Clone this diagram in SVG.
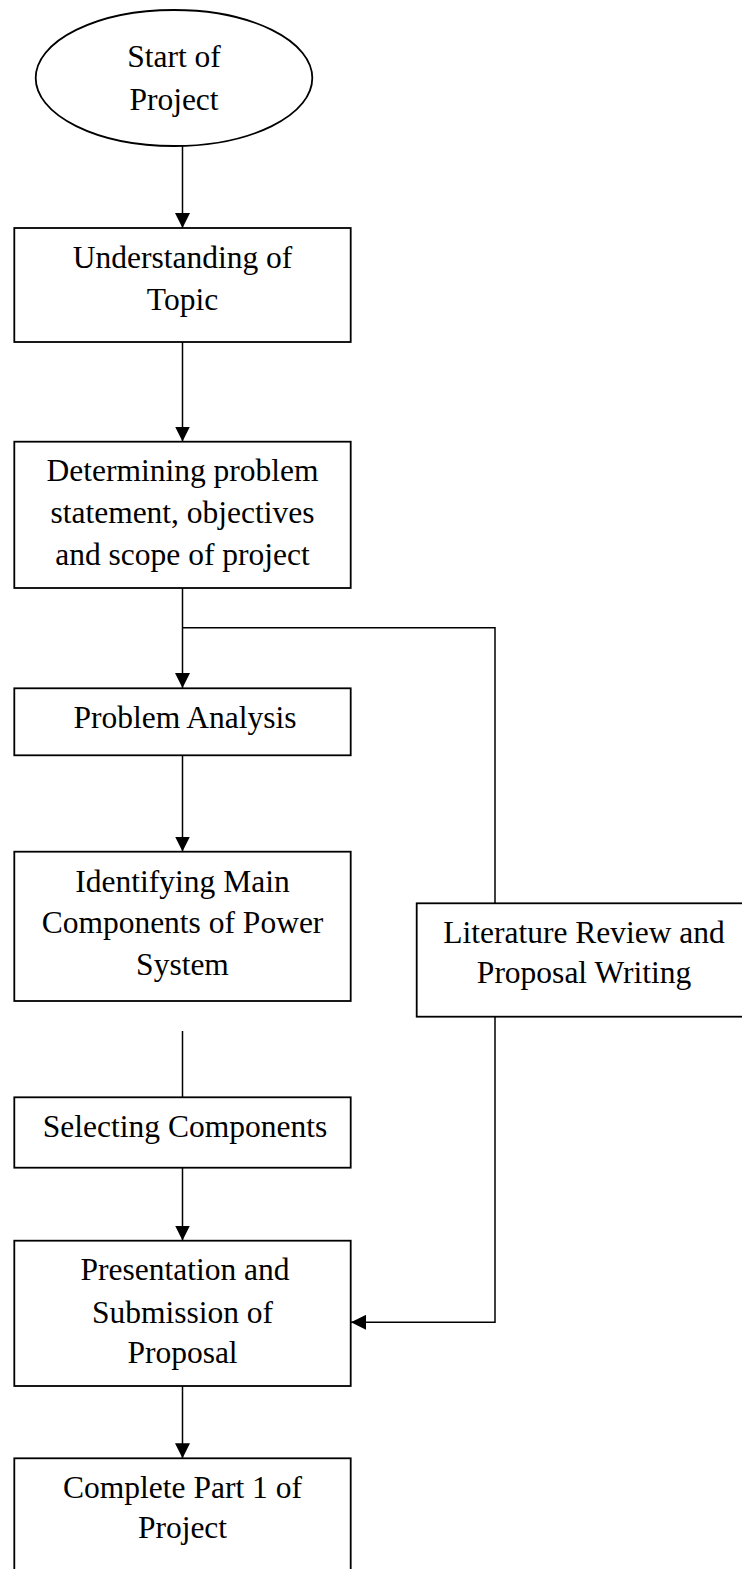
<svg xmlns="http://www.w3.org/2000/svg" width="742" height="1569" viewBox="0 0 742 1569">
<style>
.n{fill:#fff;stroke:#000;stroke-width:1.8}
.t{font-family:"Liberation Serif","Times New Roman",serif;font-size:31.5px;fill:#000;text-anchor:middle}
.c{fill:none;stroke:#000;stroke-width:1.5}
</style>
<defs>
<marker id="ah" viewBox="0 0 15 15" markerWidth="15" markerHeight="15" markerUnits="userSpaceOnUse" refX="15" refY="7.5" orient="auto">
<path d="M0,0 L15,7.5 L0,15 z" fill="#000"/>
</marker>
</defs>
<rect width="742" height="1569" fill="#fff"/>
<g id="connectors">
<path class="c" d="M182.5,146 V228" marker-end="url(#ah)"/>
<path class="c" d="M182.5,342 V441.5" marker-end="url(#ah)"/>
<path class="c" d="M182.5,588 V688" marker-end="url(#ah)"/>
<path class="c" d="M182.5,627.7 H495 V903.3"/>
<path class="c" d="M182.5,755.3 V851.5" marker-end="url(#ah)"/>
<path class="c" d="M182.5,1031 V1097.3"/>
<path class="c" d="M182.5,1167.7 V1240.5" marker-end="url(#ah)"/>
<path class="c" d="M495,1016.7 V1322.3 H351" marker-end="url(#ah)"/>
<path class="c" d="M182.5,1386 V1458.3" marker-end="url(#ah)"/>
</g>
<g id="start">
<ellipse class="n" cx="174" cy="78" rx="138.3" ry="68"/>
<text class="t" x="174" y="67">Start of</text>
<text class="t" x="174" y="110">Project</text>
</g>
<g id="understanding">
<rect class="n" x="14.3" y="228" width="336.4" height="114"/>
<text class="t" x="182.5" y="268">Understanding of</text>
<text class="t" x="182.5" y="310">Topic</text>
</g>
<g id="determining">
<rect class="n" x="14.3" y="441.7" width="336.4" height="146.3"/>
<text class="t" x="182.5" y="481">Determining problem</text>
<text class="t" x="182.5" y="523">statement, objectives</text>
<text class="t" x="182.5" y="565">and scope of project</text>
</g>
<g id="analysis">
<rect class="n" x="14.3" y="688.3" width="336.4" height="67"/>
<text class="t" x="185" y="727.7">Problem Analysis</text>
</g>
<g id="identifying">
<rect class="n" x="14.3" y="851.7" width="336.4" height="149.3"/>
<text class="t" x="182.5" y="891.7">Identifying Main</text>
<text class="t" x="182.5" y="933.3">Components of Power</text>
<text class="t" x="182.5" y="975">System</text>
</g>
<g id="literature">
<rect class="n" x="416.7" y="903.3" width="340" height="113.4"/>
<text class="t" x="584" y="942.7">Literature Review and</text>
<text class="t" x="584" y="983.3">Proposal Writing</text>
</g>
<g id="selecting">
<rect class="n" x="14.3" y="1097.3" width="336.4" height="70.4"/>
<text class="t" x="185" y="1136.7">Selecting Components</text>
</g>
<g id="presentation">
<rect class="n" x="14.3" y="1240.7" width="336.4" height="145.3"/>
<text class="t" x="185" y="1280">Presentation and</text>
<text class="t" x="182.5" y="1322.5">Submission of</text>
<text class="t" x="182.5" y="1363.3">Proposal</text>
</g>
<g id="complete">
<rect class="n" x="14.3" y="1458.3" width="336.4" height="130"/>
<text class="t" x="182.5" y="1498.3">Complete Part 1 of</text>
<text class="t" x="182.5" y="1538.3">Project</text>
</g>
</svg>
